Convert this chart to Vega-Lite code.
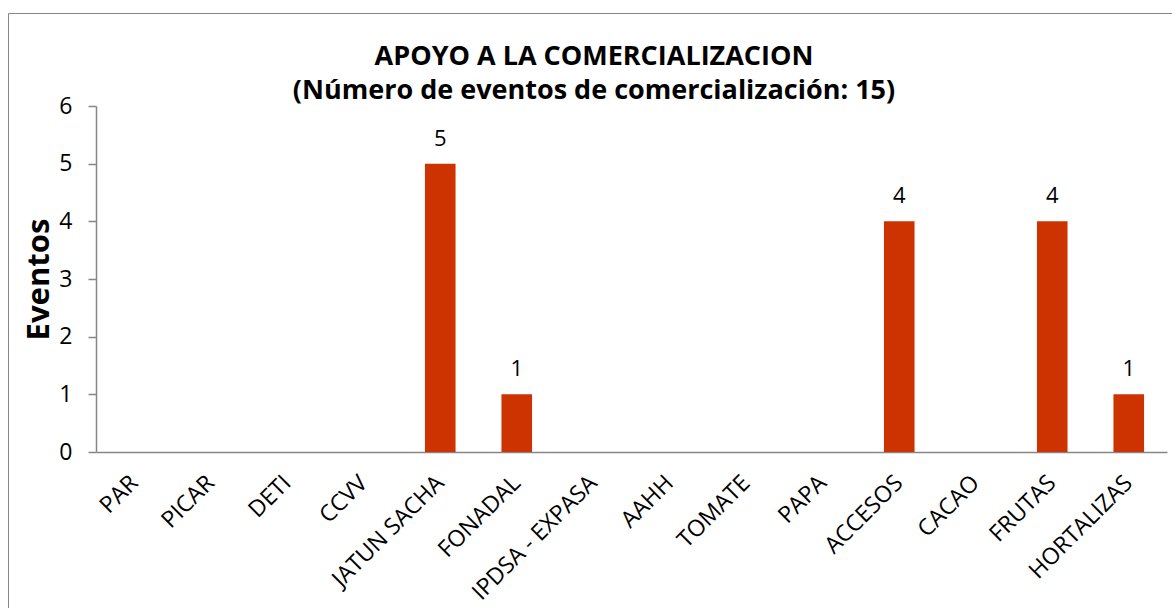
{
  "$schema": "https://vega.github.io/schema/vega-lite/v6.json",
  "autosize": "none",
  "width": 1164,
  "height": 595,
  "padding": {"left": 8, "top": 13, "right": 0, "bottom": 0},
  "background": "white",
  "config": {
    "view": {"stroke": "#868686", "strokeWidth": 1},
    "font": "Open Sans"
  },
  "title": {
    "text": ["APOYO A LA COMERCIALIZACION", "(Número de eventos de comercialización: 15)"],
    "fontSize": 27,
    "fontWeight": "bold",
    "color": "black",
    "anchor": "middle",
    "frame": "group",
    "orient": "top",
    "offset": -92,
    "dx": 4,
    "lineHeight": 34
  },
  "data": {
    "values": [
      {"programa": "PAR", "eventos": 0},
      {"programa": "PICAR", "eventos": 0},
      {"programa": "DETI", "eventos": 0},
      {"programa": "CCVV", "eventos": 0},
      {"programa": "JATUN SACHA", "eventos": 5},
      {"programa": "FONADAL", "eventos": 1},
      {"programa": "IPDSA - EXPASA", "eventos": 0},
      {"programa": "AAHH", "eventos": 0},
      {"programa": "TOMATE", "eventos": 0},
      {"programa": "PAPA", "eventos": 0},
      {"programa": "ACCESOS", "eventos": 4},
      {"programa": "CACAO", "eventos": 0},
      {"programa": "FRUTAS", "eventos": 4},
      {"programa": "HORTALIZAS", "eventos": 1}
    ]
  },
  "encoding": {
    "x": {
      "field": "programa",
      "type": "nominal",
      "sort": null,
      "scale": {"range": [88, 1159], "paddingInner": 0.6, "paddingOuter": 0.3},
      "axis": {
        "orient": "bottom",
        "offset": -156,
        "title": null,
        "labelAngle": -45,
        "labelAlign": "right",
        "labelBaseline": "middle",
        "labelFontSize": 23,
        "labelColor": "black",
        "labelPadding": 27,
        "ticks": false,
        "domainColor": "#868686",
        "domainWidth": 1.5,
        "labelLimit": 300
      }
    },
    "y": {
      "field": "eventos",
      "type": "quantitative",
      "scale": {"domain": [0, 6], "range": [439, 93], "nice": false},
      "axis": {
        "orient": "left",
        "offset": -88,
        "values": [0, 1, 2, 3, 4, 5, 6],
        "grid": false,
        "title": "Eventos",
        "titleFontSize": 31,
        "titleFontWeight": "bold",
        "titleColor": "black",
        "titlePadding": 3,
        "labelFontSize": 23,
        "labelColor": "black",
        "labelPadding": 16,
        "tickSize": 8,
        "tickColor": "#868686",
        "domainColor": "#868686",
        "domainWidth": 1.5,
        "tickWidth": 1.5
      }
    }
  },
  "layer": [
    {
      "mark": {"type": "bar", "color": "#CC3300"}
    },
    {
      "transform": [{"filter": "datum.eventos > 0"}],
      "mark": {"type": "text", "fontSize": 22, "color": "black", "baseline": "alphabetic", "dy": -18},
      "encoding": {"text": {"field": "eventos", "type": "quantitative"}}
    }
  ]
}
